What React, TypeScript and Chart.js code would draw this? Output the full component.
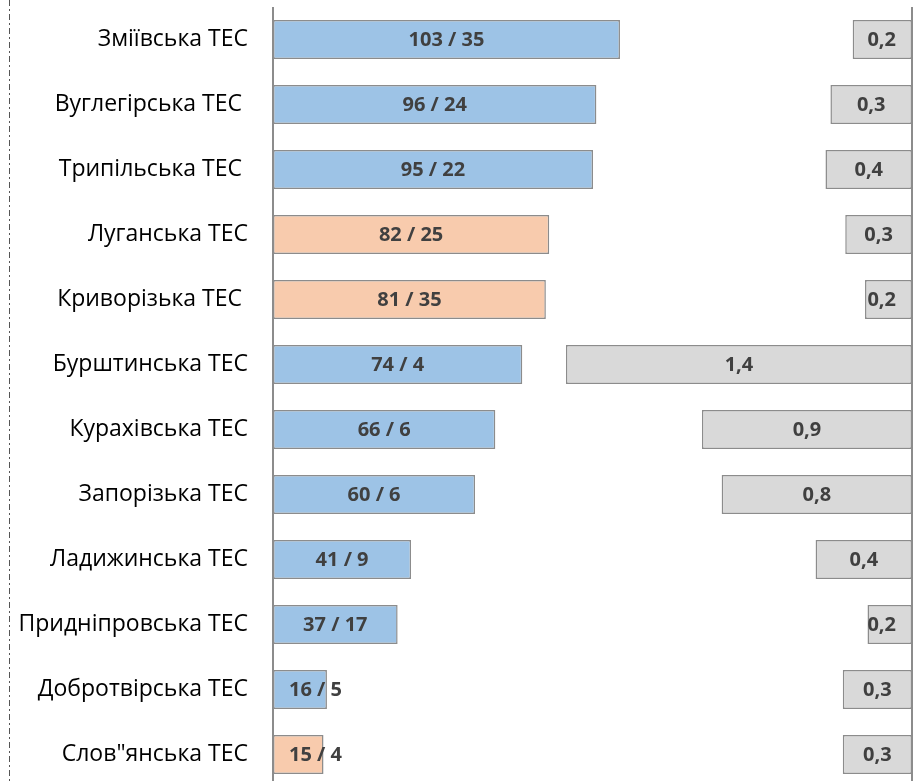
import React, { useEffect, useRef } from 'react';
import { Chart, registerables } from 'chart.js';

Chart.register(...registerables);

const categories = [
  'Зміївська ТЕС',
  'Вуглегірська ТЕС ',
  'Трипільська ТЕС ',
  'Луганська ТЕС',
  'Криворізька ТЕС ',
  'Бурштинська ТЕС',
  'Курахівська ТЕС',
  'Запорізька ТЕС',
  'Ладижинська ТЕС',
  'Придніпровська ТЕС',
  'Добротвірська ТЕС',
  'Слов"янська ТЕС',
];
const primaryValues = [103, 96, 95, 82, 81, 74, 66, 60, 41, 37, 16, 15];
const secondaryValues = [35, 24, 22, 25, 35, 4, 6, 6, 9, 17, 5, 4];
const shareValues = [0.24, 0.33, 0.35, 0.27, 0.19, 1.4, 0.85, 0.77, 0.39, 0.18, 0.28, 0.28];
const shareLabels = ['0,2', '0,3', '0,4', '0,3', '0,2', '1,4', '0,9', '0,8', '0,4', '0,2', '0,3', '0,3'];
const groupKind = ['blue', 'blue', 'blue', 'orange', 'orange', 'blue', 'blue', 'blue', 'blue', 'blue', 'blue', 'orange'];

const BLUE = '#9DC3E6';
const ORANGE = '#F8CBAD';
const GREY = '#D9D9D9';
const BORDER = '#8C8C8C';
const LABEL = '#404040';
const LABEL_FONT = 'bold 20px "Open Sans", "Noto Sans", sans-serif';

const decorPlugin = {
  id: 'decor',
  beforeDatasetsDraw(chart: any) {
    const { ctx } = chart;
    ctx.save();
    ctx.strokeStyle = '#555';
    ctx.lineWidth = 1;
    ctx.setLineDash([6, 3, 2, 3]);
    ctx.beginPath();
    ctx.moveTo(9.5, 0);
    ctx.lineTo(9.5, chart.height);
    ctx.stroke();
    ctx.setLineDash([]);
    ctx.restore();
  },
  afterDatasetsDraw(chart: any) {
    const { ctx, chartArea } = chart;
    ctx.save();
    ctx.strokeStyle = BORDER;
    ctx.lineWidth = 2;
    ctx.beginPath();
    ctx.moveTo(chartArea.left, chartArea.top);
    ctx.lineTo(chartArea.left, chartArea.bottom);
    ctx.moveTo(chartArea.right, chartArea.top);
    ctx.lineTo(chartArea.right, chartArea.bottom);
    ctx.stroke();

    ctx.font = LABEL_FONT;
    ctx.fillStyle = LABEL;
    ctx.textAlign = 'center';
    ctx.textBaseline = 'middle';
    const left = chart.getDatasetMeta(0).data;
    left.forEach((bar: any, i: number) => {
      const text = `${primaryValues[i]} / ${secondaryValues[i]}`;
      const tw = ctx.measureText(text).width;
      const cx = Math.max((bar.x + bar.base) / 2, bar.base + 16 + tw / 2);
      ctx.fillText(text, cx, bar.y + 1);
    });
    const right = chart.getDatasetMeta(1).data;
    right.forEach((bar: any, i: number) => {
      const text = shareLabels[i];
      const tw = ctx.measureText(text).width;
      const cx = Math.min((bar.x + bar.base) / 2, bar.base - 16 - tw / 2);
      ctx.fillText(text, cx, bar.y + 1);
    });
    ctx.restore();
  },
};

export default function App() {
  const ref = useRef<HTMLCanvasElement | null>(null);

  useEffect(() => {
    if (!ref.current) return;
    const chart = new Chart(ref.current, {
      type: 'bar',
      data: {
        labels: categories,
        datasets: [
          {
            data: primaryValues,
            xAxisID: 'x',
            backgroundColor: groupKind.map((k) => (k === 'orange' ? ORANGE : BLUE)),
            borderColor: BORDER,
            borderWidth: 1.5,
            borderSkipped: false,
            grouped: false,
            barPercentage: 0.6,
            categoryPercentage: 1,
          } as any,
          {
            data: shareValues,
            xAxisID: 'x2',
            backgroundColor: GREY,
            borderColor: BORDER,
            borderWidth: 1.5,
            borderSkipped: false,
            grouped: false,
            barPercentage: 0.6,
            categoryPercentage: 1,
          } as any,
        ],
      },
      options: {
        indexAxis: 'y',
        animation: false,
        responsive: false,
        maintainAspectRatio: false,
        layout: { padding: { top: 7, bottom: 3, right: 4, left: 0 } },
        plugins: { legend: { display: false }, tooltip: { enabled: false } },
        scales: {
          x: { display: false, min: 0, max: 189.7 },
          x2: { display: false, min: 0, max: 2.585, reverse: true },
          y: {
            grid: { display: false, drawTicks: false },
            border: { display: false },
            ticks: {
              color: '#000',
              padding: 25,
              font: { size: 23, family: '"Open Sans", "Noto Sans", sans-serif' },
            },
            afterFit: (scale: any) => {
              scale.width = 273;
              scale.paddingTop = 0;
              scale.paddingBottom = 0;
            },
          },
        },
      } as any,
      plugins: [decorPlugin],
    });
    return () => chart.destroy();
  }, []);

  return (
    <div style={{ position: 'absolute', left: 0, top: 0, width: 916, height: 790 }}>
      <canvas ref={ref} width={916} height={790} style={{ width: 916, height: 790, display: 'block' }} />
    </div>
  );
}
